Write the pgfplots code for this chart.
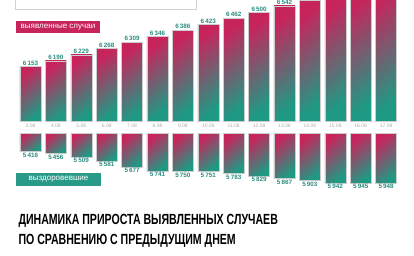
\documentclass[border=0pt]{standalone}
\usepackage{pgfplots}
\usepackage{pgfplotstable}
\pgfplotsset{compat=1.18}
\usepackage{fontspec}
\setmainfont{Liberation Sans}
\newfontfamily\titlefont[FakeStretch=0.72]{Liberation Sans}
\definecolor{mag}{HTML}{C8245C}
\definecolor{tealc}{HTML}{1E9A84}
\definecolor{boxteal}{HTML}{2A9A88}
\definecolor{lbl}{HTML}{2A8C80}
\pgfplotstableread{
x date new rec
0 3.08 6153 5416
1 4.08 6190 5456
2 5.08 6229 5509
3 6.08 6268 5581
4 7.08 6309 5677
5 8.08 6346 5741
6 9.08 6386 5750
7 10.08 6423 5751
8 11.08 6462 5783
9 12.08 6500 5829
10 13.08 6542 5867
11 14.08 6580 5903
12 15.08 6620 5942
13 16.08 6660 5945
14 17.08 6700 5948
}\data
\begin{document}
\begin{tikzpicture}
\useasboundingbox (0,0) rectangle (414pt,256pt);
\clip (0,0) rectangle (414pt,256pt);
\fill[white] (0,0) rectangle (414pt,256pt);
\draw[gray!35, line width=0.8pt] (15.7pt,260pt) -- (15.7pt,247pt) -- (196pt,247pt) -- (196pt,260pt);
\pgfplotsset{
  barbase/.style={
    scale only axis, width=381pt,
    xmin=-0.5, xmax=14.5,
    axis line style={draw=none}, tick style={draw=none},
    ytick=\empty,
    clip=false,
  },
  plainbar/.style={
    ybar, bar width=0.83, bar shift=0pt,
    draw=gray!40, line width=0.4pt,
    top color=mag, bottom color=tealc, shading angle=40,
  },
  shadebar/.style={
    plainbar,
    point meta=explicit,
    nodes near coords={\pgfmathprintnumber[fixed, 1000 sep={\hspace{0.18em}}, assume math mode=true]{\pgfplotspointmeta}},
    every node near coord/.append style={font=\fontsize{6.3}{7}\selectfont\bfseries, text=lbl, inner sep=1.2pt},
  }
}
\begin{axis}[barbase, height=121.7pt, at={(17.8pt,134.3pt)}, anchor=south west,
  ymin=0, ymax=780,
  xtick={0,...,14}, xticklabels={3.08,4.08,5.08,6.08,7.08,8.08,9.08,10.08,11.08,12.08,13.08,14.08,15.08,16.08,17.08},
  xticklabel style={font=\fontsize{5}{5}\selectfont, text=gray!65, inner sep=0pt, yshift=-2.3pt},
]
\pgfplotsinvokeforeach{0,...,10}{
\addplot[shadebar, restrict x to domain=#1:#1] table[x=x, y expr=\thisrow{new}-5800, meta=new] {\data};
}
\pgfplotsinvokeforeach{11,...,14}{
\addplot[plainbar, restrict x to domain=#1:#1] table[x=x, y expr=\thisrow{new}-5800] {\data};
}
\end{axis}
\begin{axis}[barbase, height=53pt, at={(17.8pt,122.7pt)}, anchor=north west,
  ymin=0, ymax=884, y dir=reverse, xtick=\empty,
]
\pgfplotsinvokeforeach{0,...,14}{
\addplot[shadebar, nodes near coords align={below}, restrict x to domain=#1:#1] table[x=x, y expr=\thisrow{rec}-5116, meta=rec] {\data};
}
\end{axis}
\node[fill=mag, text=white, minimum width=84pt, minimum height=12.6pt, inner sep=0pt, font=\fontsize{8}{9}\selectfont] at (58pt,229pt) {выявленные случаи};
\node[fill=boxteal, text=white, minimum width=85pt, minimum height=13pt, inner sep=0pt, font=\fontsize{8}{9}\selectfont] at (58.5pt,76.5pt) {выздоровевшие};
\node[anchor=base west, inner sep=0pt, font=\titlefont\bfseries\fontsize{14.7}{15}\selectfont] at (18.3pt,31pt) {ДИНАМИКА ПРИРОСТА ВЫЯВЛЕННЫХ СЛУЧАЕВ};
\node[anchor=base west, inner sep=0pt, font=\titlefont\bfseries\fontsize{14.7}{15}\selectfont] at (18.3pt,11pt) {ПО СРАВНЕНИЮ С ПРЕДЫДУЩИМ ДНЕМ};
\end{tikzpicture}
\end{document}
